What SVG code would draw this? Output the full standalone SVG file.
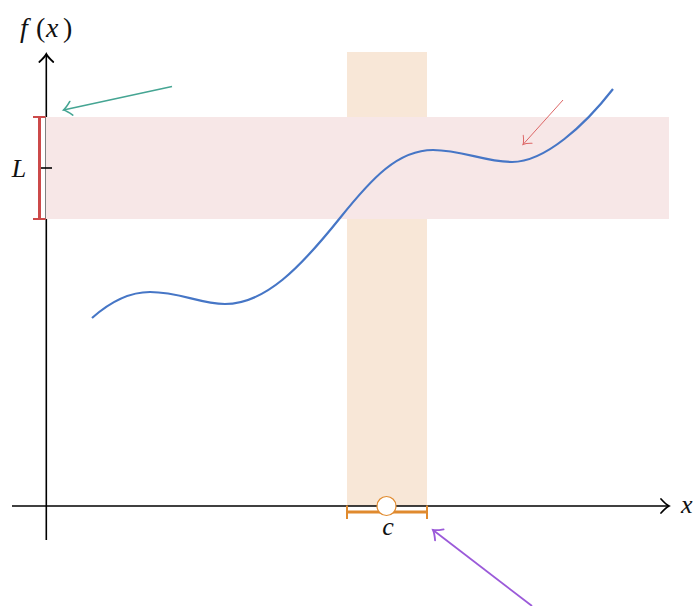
<svg xmlns="http://www.w3.org/2000/svg" width="697" height="606" viewBox="0 0 697 606">
<style>
.lbl{font-family:"Liberation Serif","Times New Roman",serif;font-style:italic;font-size:26px;fill:#111}
.big{font-size:28px}
.rm{font-style:normal}
.axis{stroke:#000;stroke-width:1.6;fill:none}
</style>
<defs>
<marker id="ahk" markerUnits="userSpaceOnUse" markerWidth="20" markerHeight="20" viewBox="-10 -10 20 20" refX="0" refY="0" orient="auto">
<path d="M-8,-7 Q-3,-1.5 0,0 Q-3,1.5 -8,7" fill="none" stroke="#000" stroke-width="1.7" stroke-linecap="round"/>
</marker>
<marker id="ahg" markerUnits="userSpaceOnUse" markerWidth="20" markerHeight="20" viewBox="-10 -10 20 20" refX="0" refY="0" orient="auto">
<path d="M-8,-7 Q-3,-1.5 0,0 Q-3,1.5 -8,7" fill="none" stroke="#45a593" stroke-width="1.6" stroke-linecap="round"/>
</marker>
<marker id="ahr" markerUnits="userSpaceOnUse" markerWidth="20" markerHeight="20" viewBox="-10 -10 20 20" refX="0" refY="0" orient="auto">
<path d="M-7,-6 Q-3,-1.3 0,0 Q-3,1.3 -7,6" fill="none" stroke="#dd6666" stroke-width="1" stroke-linecap="round"/>
</marker>
<marker id="ahp" markerUnits="userSpaceOnUse" markerWidth="20" markerHeight="20" viewBox="-10 -10 20 20" refX="0" refY="0" orient="auto">
<path d="M-8,-7 Q-3,-1.5 0,0 Q-3,1.5 -8,7" fill="none" stroke="#9b5ad9" stroke-width="1.8" stroke-linecap="round"/>
</marker>
</defs>

<g id="orange-band"><rect x="347" y="52" width="80" height="454" fill="#f8e7d7"/></g>

<g id="axes">
<line class="axis" x1="46.3" y1="540" x2="46.3" y2="54" marker-end="url(#ahk)"/>
<line class="axis" x1="12" y1="506" x2="669" y2="506" marker-end="url(#ahk)"/>
</g>

<g id="pink-band"><rect x="46" y="117" width="623" height="102" fill="#f7e7e7"/></g>

<g id="labels">
<text class="lbl big" y="37"><tspan x="20">f</tspan><tspan class="rm" x="36">(</tspan><tspan x="46">x</tspan><tspan class="rm" x="63">)</tspan></text>
<text class="lbl" x="681" y="513">x</text>
<text class="lbl" x="19" y="177" text-anchor="middle">L</text>
<text class="lbl" x="388" y="535" text-anchor="middle">c</text>
</g>

<g id="L-bracket">
<line x1="39.5" y1="117" x2="39.5" y2="219" stroke="#cc4a4a" stroke-width="3"/>
<line x1="33" y1="117" x2="45.5" y2="117" stroke="#cc4a4a" stroke-width="2"/>
<line x1="33" y1="219" x2="45.5" y2="219" stroke="#cc4a4a" stroke-width="2"/>
<line x1="41" y1="168" x2="52" y2="168" stroke="#000" stroke-width="1.6"/>
</g>

<g id="curve">
<path d="M92,318 C110,302 130,292 150,292 C180,292 200,304 225,304 C265,304 300,268 340,218 C372,178 398,150 433,150 C462,150 485,162 512,162 C545,162 585,125 613,89" fill="none" stroke="#4676c6" stroke-width="2.2"/>
</g>

<g id="c-bracket">
<line x1="347" y1="512" x2="427" y2="512" stroke="#e08a2e" stroke-width="3"/>
<line x1="347" y1="505.5" x2="347" y2="519" stroke="#e08a2e" stroke-width="2"/>
<line x1="427" y1="505.5" x2="427" y2="519" stroke="#e08a2e" stroke-width="2"/>
<circle cx="386.5" cy="506" r="9.5" fill="#fff" stroke="#e08a2e" stroke-width="1.2"/>
</g>

<g id="connectors">
<line x1="172" y1="86.5" x2="63.5" y2="110" stroke="#45a593" stroke-width="1.6" marker-end="url(#ahg)"/>
<line x1="563" y1="100" x2="523" y2="144.5" stroke="#dd6666" stroke-width="1" marker-end="url(#ahr)"/>
<line x1="532" y1="606" x2="433" y2="530" stroke="#9b5ad9" stroke-width="1.8" marker-end="url(#ahp)"/>
</g>
</svg>
